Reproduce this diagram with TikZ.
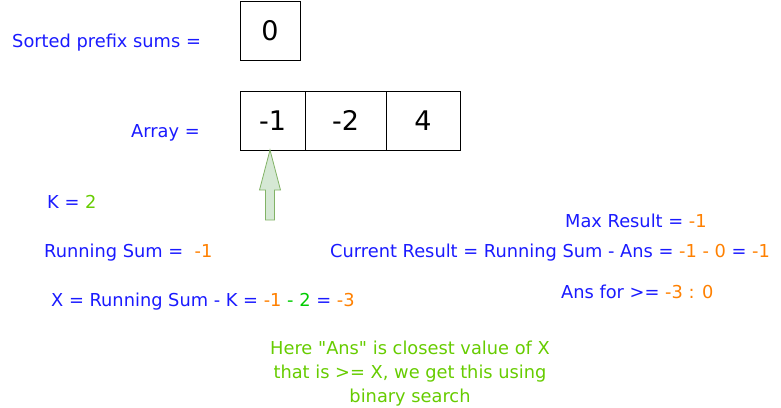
\documentclass[tikz,border=0pt]{standalone}
\usepackage{fontspec}
\setmainfont{DejaVu Sans}
\newfontfamily\qfont{DejaVu Sans}
\usetikzlibrary{shapes.arrows}
\definecolor{tblue}{HTML}{1A1AFF}
\definecolor{torange}{HTML}{FF8000}
\definecolor{tgreen}{HTML}{66CC00}
\definecolor{tgreenb}{HTML}{00CC00}
\definecolor{afill}{HTML}{D5E8D4}
\definecolor{astroke}{HTML}{82B366}
\tikzset{
  lbl/.style={inner sep=0pt, anchor=mid west, yshift=-3pt, text=tblue, font=\fontsize{17.8}{20}\selectfont},
  cell/.style={draw=black, line width=1pt, minimum height=59pt, inner sep=0pt, font=\fontsize{27}{30}\selectfont},
  note/.style={inner sep=0pt, text=tgreen, align=center, font=\fontsize{17.8}{24}\selectfont},
}
\begin{document}
\begin{tikzpicture}[x=1pt,y=-1pt]
\useasboundingbox (0,0) rectangle (781,407);
% boxes
\node[cell, minimum width=60pt] (p0) at (270,30.5) {0};
\node[cell, minimum width=65pt] (a0) at (272.5,120.5) {-1};
\node[cell, minimum width=81pt] (a1) at (345.5,120.5) {-2};
\node[cell, minimum width=74pt] (a2) at (423,120.5) {4};
% arrow
\coordinate (tip) at (a0.south);
\draw[astroke, fill=afill, line width=0.8pt]
  (270,150) -- (280.5,190) -- (274.5,190) -- (274.5,220) -- (265.5,220) -- (265.5,190) -- (259.5,190) -- cycle;
% labels
\node[lbl] (sps) at (12,42) {Sorted prefix sums =};
\node[lbl] (arr) at (131,132) {Array =};
\node[lbl] (k) at (47,203) {K = \textcolor{tgreen}{2}};
\node[lbl] (rs) at (44,252) {Running Sum = \ \textcolor{torange}{-1}};
\node[lbl] (x) at (51,301) {X = Running Sum - K = \textcolor{torange}{-1} \textcolor{tgreenb}{- 2} = \textcolor{torange}{-3}};
\node[lbl] (mr) at (565,222) {Max Result = \textcolor{torange}{-1}};
\node[lbl] (cr) at (330,252) {Current Result = Running Sum - Ans = \textcolor{torange}{-1 - 0} = \textcolor{torange}{-1}};
\node[lbl] (af) at (561,293) {Ans for >= \textcolor{torange}{-3 : 0}};
\node[note] (nt) at (410,374) {Here {\qfont"}Ans{\qfont"} is closest value of X\\that is >= X, we get this using\\binary search};
\end{tikzpicture}
\end{document}
